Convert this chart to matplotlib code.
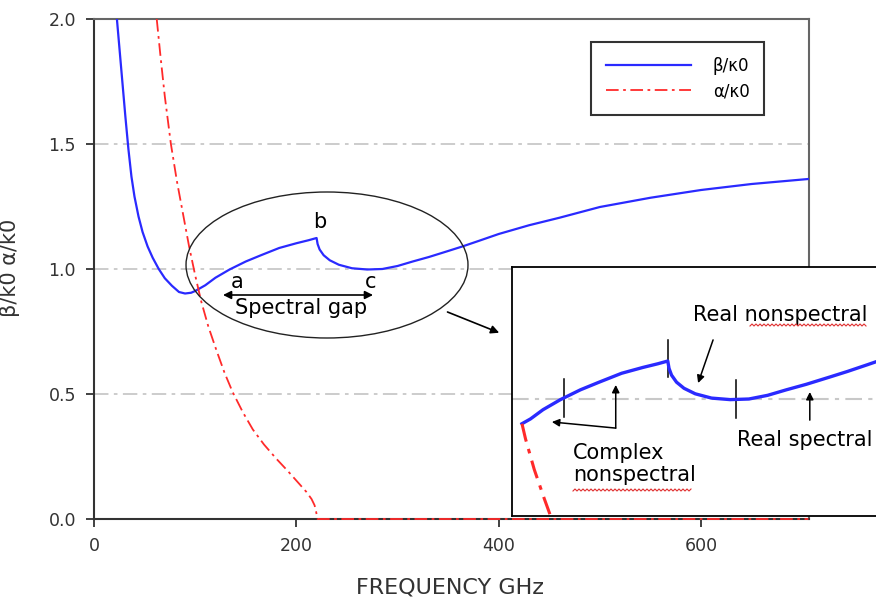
import numpy as np
import matplotlib.pyplot as plt
from matplotlib.patches import Ellipse
from matplotlib.lines import Line2D

plt.rcParams['font.family'] = ['DejaVu Sans']

# Normalised propagation constant (beta/k0) vs frequency
freq_beta = [22, 25, 28, 31, 34, 37, 40, 44, 48, 53, 58, 64, 70, 77, 84, 90,
             96, 100, 110, 120, 134, 150, 165, 183, 200, 212, 220, 221, 223,
             227, 233, 242, 255, 270, 285, 300, 315, 331, 350, 364, 380, 400,
             430, 460, 500, 550, 600, 650, 706]
beta_k0 = [2.03, 1.89, 1.75, 1.61, 1.48, 1.37, 1.29, 1.21, 1.148, 1.09, 1.045,
           1.0, 0.963, 0.933, 0.908, 0.902, 0.905, 0.912, 0.935, 0.965, 0.998,
           1.03, 1.055, 1.084, 1.103, 1.115, 1.124, 1.10, 1.078, 1.055, 1.035,
           1.017, 1.003, 0.998, 1.0, 1.012, 1.03, 1.048, 1.072, 1.09, 1.112,
           1.14, 1.175, 1.205, 1.248, 1.285, 1.316, 1.34, 1.36]

# Normalised attenuation constant (alpha/k0) vs frequency
freq_alpha = [62, 66, 70, 76, 82, 88, 94, 100, 106, 113, 121, 129, 137, 147,
              157, 168, 180, 192, 203, 210, 215, 218, 219.5, 220.5, 221, 706]
alpha_k0 = [2.0, 1.84, 1.69, 1.5, 1.35, 1.22, 1.09, 0.975, 0.87, 0.77, 0.675,
            0.585, 0.508, 0.428, 0.358, 0.298, 0.242, 0.19, 0.14, 0.108, 0.08,
            0.055, 0.03, 0.008, 0.0, 0.0]

x_ticks = [0, 200, 400, 600]
y_ticks = [0.0, 0.5, 1.0, 1.5, 2.0]

# frequencies separating the solution regions shown in the zoomed view
region_edges = [136.7, 220.0, 274.5]

BLUE = '#2a2aff'
RED = '#ff2a2a'
DARK = '#333333'

fig = plt.figure(figsize=(8.76, 6.06), dpi=100)
ax = fig.add_axes([94 / 876, 87 / 606, 715 / 876, 500 / 606])

ax.plot(freq_beta, beta_k0, color=BLUE, lw=1.6, label='β/κ0', zorder=3)
ax.plot(freq_alpha, alpha_k0, color=RED, lw=1.3, ls=(0, (7, 2.5, 1.5, 2.5)),
        label='α/κ0', zorder=4, clip_on=False)

ax.set_xlim(0, 706.7)
ax.set_ylim(0, 2.0)
ax.set_xticks(x_ticks)
ax.set_yticks(y_ticks)
ax.yaxis.set_major_formatter(plt.FormatStrFormatter('%.1f'))
ax.tick_params(axis='both', direction='out', length=6, width=1.3,
               color=DARK, labelsize=12.5, labelcolor=DARK, pad=7)

ax.yaxis.grid(True, color='#c8c8c8', lw=1.3, ls=(0, (8, 3, 2, 3)))
ax.set_axisbelow(True)

for side in ['left', 'bottom']:
    ax.spines[side].set_color(DARK)
    ax.spines[side].set_linewidth(1.5)
for side in ['top', 'right']:
    ax.spines[side].set_color('#666666')
    ax.spines[side].set_linewidth(1.5)

ax.set_xlabel('FREQUENCY GHz', fontsize=16, color=DARK)
ax.xaxis.set_label_coords(0.498, -0.118)
ax.set_ylabel('β/k0 α/k0', fontsize=15, color=DARK)
ax.yaxis.set_label_coords(-0.1035, 0.503)

leg = ax.legend(loc='upper left', bbox_to_anchor=(591 / 876, 1 - 42 / 606),
                bbox_transform=fig.transFigure, fontsize=12, fancybox=False,
                framealpha=1, edgecolor=DARK, borderpad=0.9, labelspacing=0.42,
                handlelength=5.1, handletextpad=1.3, borderaxespad=0)
leg.get_frame().set_linewidth(1.5)

# Spectral gap annotation
ax.add_patch(Ellipse((230.3, 1.016), 278.7, 0.584, fill=False,
                     edgecolor='#222222', lw=1.0, zorder=5))
ax.annotate('', xy=(127.5, 0.896), xytext=(275.8, 0.896),
            arrowprops=dict(arrowstyle='<|-|>', color='black', lw=1.2,
                            mutation_scale=12, shrinkA=0, shrinkB=0))
ax.text(204.6, 0.844, 'Spectral gap', fontsize=15, ha='center', va='center')
ax.text(141.3, 0.948, 'a', fontsize=15, ha='center', va='center')
ax.text(223.4, 1.188, 'b', fontsize=15, ha='center', va='center')
ax.text(273.8, 0.948, 'c', fontsize=15, ha='center', va='center')
ax.annotate('', xy=(400.5, 0.745), xytext=(349.4, 0.828),
            arrowprops=dict(arrowstyle='-|>', color='black', lw=1.2,
                            mutation_scale=12, shrinkA=0, shrinkB=0))

# Zoomed view of the region around the spectral gap
ins = fig.add_axes([512 / 876, 90 / 606, 368 / 876, 249 / 606])
fine = np.linspace(95, 115, 2001)
diff = np.interp(fine, freq_beta, beta_k0) - np.interp(fine, freq_alpha, alpha_k0)
x_cross = fine[np.argmax(diff > 0)]

bx = [x_cross] + [f for f in freq_beta if f > x_cross]
ax_ = [x_cross] + [f for f in freq_alpha if f > x_cross]
ins.plot(bx, np.interp(bx, freq_beta, beta_k0), color=BLUE, lw=2.4, zorder=3)
ins.plot(ax_, np.interp(ax_, freq_alpha, alpha_k0), color=RED, lw=2.2,
         ls=(0, (6, 2.5, 1.5, 2.5)), zorder=3)
ins.axhline(1.0, color='#c8c8c8', lw=1.5, ls=(0, (8, 3, 2, 3)), zorder=1)

ins.set_xlim(x_cross - 10 / 1.248, x_cross - 10 / 1.248 + 368 / 1.248)
ins.set_ylim(0.618, 1.431)
ins.set_xticks([])
ins.set_yticks([])
for side in ['left', 'top', 'bottom']:
    ins.spines[side].set_color('black')
    ins.spines[side].set_linewidth(1.3)
ins.spines['right'].set_visible(False)

for edge in region_edges:
    level = np.interp(edge, freq_beta, beta_k0)
    if edge == region_edges[1]:
        ins.plot([edge, edge], [level - 0.052, level + 0.069], color='black', lw=1.1)
    else:
        ins.plot([edge, edge], [level - 0.062, level + 0.062], color='black', lw=1.1)

arrow = dict(arrowstyle='-|>', color='black', lw=1.1, mutation_scale=11,
             shrinkA=0, shrinkB=0)
ins.annotate('', xy=(244.3, 1.052), xytext=(256.3, 1.193), arrowprops=arrow)
ins.annotate('', xy=(178.3, 1.046), xytext=(178.3, 0.905), arrowprops=arrow)
ins.annotate('', xy=(127.1, 0.925), xytext=(178.3, 0.905), arrowprops=arrow)
ins.annotate('', xy=(333.8, 1.023), xytext=(333.8, 0.931), arrowprops=arrow)

ins.text(240.0, 1.275, 'Real nonspectral', fontsize=15, ha='left', va='center')
ins.text(143.9, 0.788, 'Complex\nnonspectral', fontsize=15, ha='left',
         va='center', linespacing=1.15)
ins.text(275.3, 0.866, 'Real spectral', fontsize=15, ha='left', va='center')

# spell-check squiggles under "nonspectral"
for x0, x1, y in [(750, 867, 325), (573, 693, 490)]:
    xs = np.arange(x0, x1, 2.0)
    ys = y + np.where(np.arange(len(xs)) % 2 == 0, 1.0, -1.0)
    fig.add_artist(Line2D(xs / 876, 1 - ys / 606, color='#e03030', lw=0.8,
                          transform=fig.transFigure))

fig.savefig('out.png', dpi=100)
